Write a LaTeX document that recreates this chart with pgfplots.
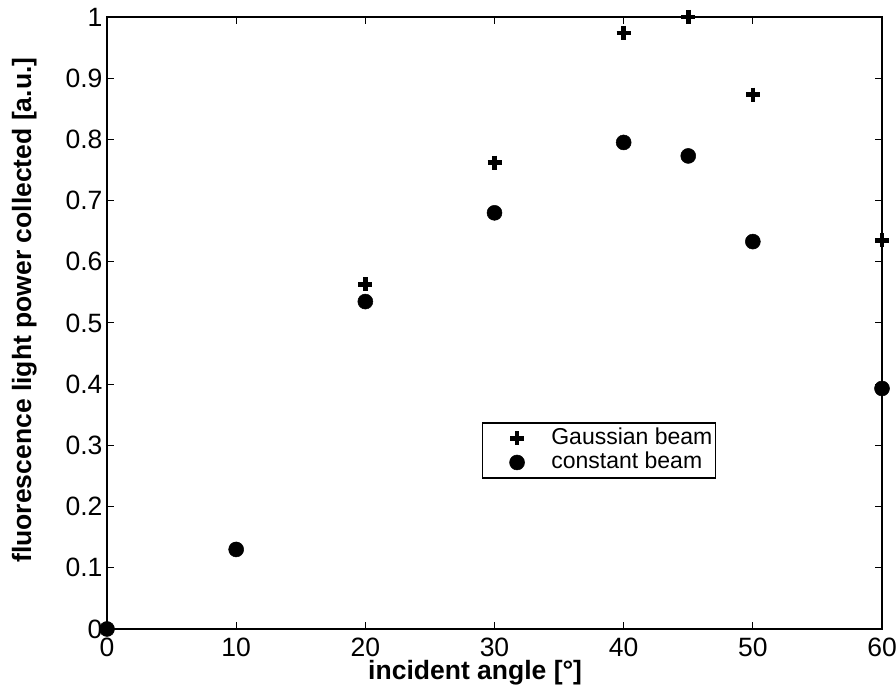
\documentclass[border=0pt]{standalone}
\usepackage{fontspec}
\setmainfont{Liberation Sans}
\usepackage{pgfplots}
\pgfplotsset{compat=1.18}
\begin{document}
\begin{tikzpicture}
\begin{axis}[
  scale only axis,
  width=775pt, height=612pt,
  xmin=0, xmax=60, ymin=0, ymax=1,
  xtick={0,10,20,30,40,50,60},
  ytick={0,0.1,0.2,0.3,0.4,0.5,0.6,0.7,0.8,0.9,1},
  tick align=inside,
  xtick pos=both, ytick pos=both,
  major tick length=7pt,
  every tick/.style={black, line width=1pt},
  axis line style={line width=1.2pt},
  tick label style={font=\fontsize{26.5}{30}\selectfont},
  /pgf/number format/assume math mode=true,
  xticklabel style={yshift=-5pt},
  yticklabel style={xshift=-1pt},
  xlabel={incident angle [°]},
  ylabel={fluorescence light power collected [a.u.]},
  xlabel style={at={(axis description cs:0.475,0)}, anchor=base, yshift=-51pt,
    font=\fontsize{26.5}{30}\selectfont\bfseries},
  ylabel style={at={(axis description cs:-0.098,0.521)}, anchor=base,
    font=\fontsize{26.5}{30}\selectfont\bfseries},
  clip=false,
  legend style={at={(axis description cs:0.635,0.2917)}, anchor=center,
    draw=black, line width=1.2pt, font=\fontsize{23}{25}\selectfont,
    inner xsep=0pt, inner ysep=3.5pt, row sep=0pt, column sep=0pt,
    nodes={inner xsep=3pt, inner ysep=1pt, text height=17pt, text depth=5pt}},
  legend cell align=left,
  legend image code/.code={\path (0pt,0pt) (61pt,0pt); \draw[#1] plot coordinates {(32pt,0pt)};},
]
\addplot[only marks, mark=+, mark size=7pt, line width=4.5pt, black]
  coordinates {(0,0) (10,0.13) (20,0.563) (30,0.762) (40,0.974) (45,1.0) (50,0.873) (60,0.635)};
\addlegendentry{Gaussian beam}
\addplot[only marks, mark=*, mark size=7.5pt, black, mark options={fill=black, line width=0.5pt}]
  coordinates {(0,0) (10,0.13) (20,0.535) (30,0.68) (40,0.795) (45,0.773) (50,0.633) (60,0.393)};
\addlegendentry{constant beam}
\end{axis}
\pgfresetboundingbox
\path[use as bounding box] (-107pt,-71pt) rectangle (789pt,629pt);
\end{tikzpicture}
\end{document}
